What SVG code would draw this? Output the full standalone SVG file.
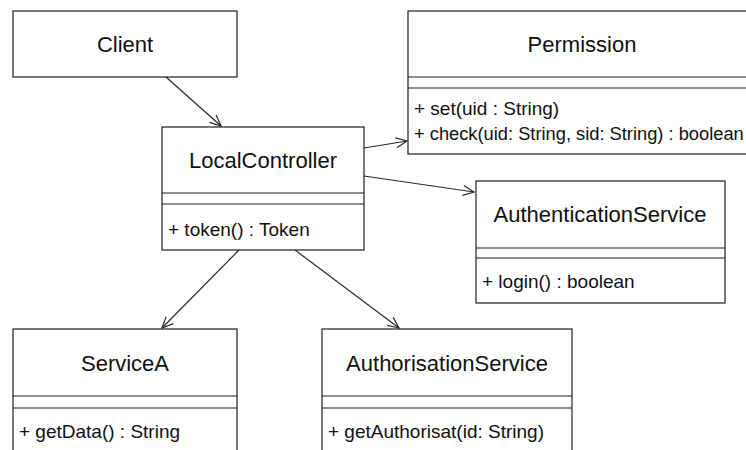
<svg xmlns="http://www.w3.org/2000/svg" width="746" height="450" viewBox="0 0 746 450">
<style>
.box{fill:#fff;stroke:#1e1e1e;stroke-width:1.2}
.sep{stroke:#1e1e1e;stroke-width:1.2}
.title{font-family:"Liberation Sans",Arial,sans-serif;font-size:22px;fill:#111;text-anchor:middle}
.mem{font-family:"Liberation Sans",Arial,sans-serif;font-size:19px;fill:#111}
.conn{stroke:#2a2a2a;stroke-width:1.2;fill:none;marker-end:url(#open)}
</style>
<defs>
<marker id="open" markerUnits="userSpaceOnUse" markerWidth="14" markerHeight="12" viewBox="-12 -6 14 12" refX="0" refY="0" orient="auto">
<polyline points="-11,-5 0,0 -11,5" fill="none" stroke="#2a2a2a" stroke-width="1.2"/>
</marker>
</defs>
<rect width="746" height="450" fill="#fff"/>
<g id="connectors">
<line class="conn" x1="166" y1="77" x2="221" y2="126"/>
<line class="conn" x1="364" y1="148" x2="407" y2="141"/>
<line class="conn" x1="364" y1="176" x2="474" y2="192"/>
<line class="conn" x1="239" y1="250" x2="162" y2="328"/>
<line class="conn" x1="295" y1="250" x2="399" y2="328"/>
</g>
<g id="Client">
<rect class="box" x="13" y="11" width="224" height="66"/>
<text class="title" x="125" y="52">Client</text>
</g>
<g id="LocalController">
<rect class="box" x="162" y="127" width="202" height="123"/>
<line class="sep" x1="162" y1="193" x2="364" y2="193"/>
<line class="sep" x1="162" y1="204" x2="364" y2="204"/>
<text class="title" x="263" y="168">LocalController</text>
<text class="mem" x="168" y="236">+ token() : Token</text>
</g>
<g id="Permission">
<rect class="box" x="408" y="11" width="348" height="143"/>
<line class="sep" x1="408" y1="77" x2="756" y2="77"/>
<line class="sep" x1="408" y1="88" x2="756" y2="88"/>
<text class="title" x="582" y="52">Permission</text>
<text class="mem" x="414" y="115">+ set(uid : String)</text>
<text class="mem" x="414" y="140" style="font-size:18.3px">+ check(uid: String, sid: String) : boolean</text>
</g>
<g id="AuthenticationService">
<rect class="box" x="476" y="181" width="249" height="122"/>
<line class="sep" x1="476" y1="248" x2="725" y2="248"/>
<line class="sep" x1="476" y1="258" x2="725" y2="258"/>
<text class="title" x="600" y="222">AuthenticationService</text>
<text class="mem" x="482" y="288">+ login() : boolean</text>
</g>
<g id="ServiceA">
<rect class="box" x="13" y="329" width="224" height="140"/>
<line class="sep" x1="13" y1="396" x2="237" y2="396"/>
<line class="sep" x1="13" y1="408" x2="237" y2="408"/>
<text class="title" x="125" y="371">ServiceA</text>
<text class="mem" x="19" y="438">+ getData() : String</text>
</g>
<g id="AuthorisationService">
<rect class="box" x="322" y="329" width="250" height="140"/>
<line class="sep" x1="322" y1="396" x2="572" y2="396"/>
<line class="sep" x1="322" y1="408" x2="572" y2="408"/>
<text class="title" x="447" y="371">AuthorisationService</text>
<text class="mem" x="328" y="438">+ getAuthorisat(id: String)</text>
</g>
</svg>
